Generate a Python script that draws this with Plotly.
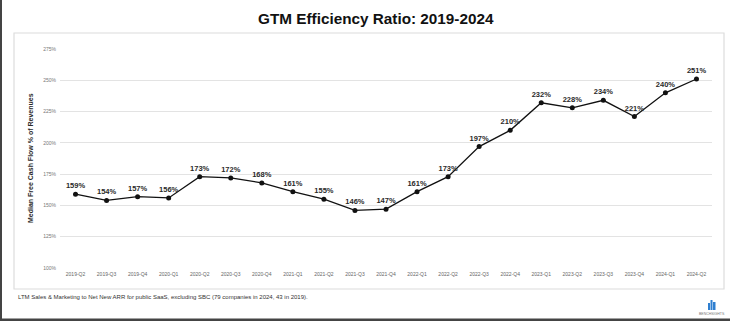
import plotly.graph_objects as go

quarters = ["2019-Q2","2019-Q3","2019-Q4","2020-Q1","2020-Q2","2020-Q3","2020-Q4",
            "2021-Q1","2021-Q2","2021-Q3","2021-Q4","2022-Q1","2022-Q2","2022-Q3",
            "2022-Q4","2023-Q1","2023-Q2","2023-Q3","2023-Q4","2024-Q1","2024-Q2"]
ratio = [159,154,157,156,173,172,168,161,155,146,147,161,173,197,210,232,228,234,221,240,251]
y_ticks = [100,125,150,175,200,225,250,275]

W, H = 730, 321
X0, X1, Y0, Y1 = 60, 712, 49, 268
def px(x): return (x - X0) / (X1 - X0)
def py(y): return (Y1 - y) / (Y1 - Y0)

fig = go.Figure()
fig.add_trace(go.Scatter(
    x=quarters, y=ratio, mode="lines+markers+text",
    line=dict(color="#111111", width=1.3),
    marker=dict(color="#111111", size=5),
    text=[f"<b>{v}%</b>" for v in ratio],
    textposition="top center",
    textfont=dict(family="Liberation Sans, Arial", size=7.5, color="#2a2a2a"),
    cliponaxis=False, hoverinfo="skip",
))

fig.update_layout(
    width=W, height=H,
    margin=dict(l=X0, r=W - X1, t=Y0, b=H - Y1),
    paper_bgcolor="white", plot_bgcolor="white",
    showlegend=False,
    font=dict(family="Liberation Sans, Arial", color="#666666"),
    xaxis=dict(type="category", range=[-0.5, len(quarters) - 0.5],
               showgrid=False, zeroline=False, showline=False,
               ticks="", tickfont=dict(size=5, color="#666666"),
               ticklabelstandoff=2),
    yaxis=dict(range=[100, 275], tickvals=y_ticks,
               ticktext=[f"{v}%" for v in y_ticks],
               showgrid=True, gridcolor="#e3e3e3", gridwidth=1,
               zeroline=False, showline=False, ticks="",
               tickfont=dict(size=5, color="#777777"),
               ticklabelstandoff=3),
)

shapes = [
    dict(type="rect", xref="paper", yref="paper", x0=px(14), x1=px(724), y0=py(289), y1=py(33),
         line=dict(color="#dcdcdc", width=1.2), fillcolor="rgba(0,0,0,0)", layer="below"),
    dict(type="rect", xref="paper", yref="paper", x0=px(0), x1=px(2), y0=py(321), y1=py(0),
         line=dict(width=0), fillcolor="#444444"),
    dict(type="rect", xref="paper", yref="paper", x0=px(0), x1=px(730), y0=py(321), y1=py(318.5),
         line=dict(width=0), fillcolor="#444444"),
]
for bx0, bx1, btop in [(708, 710, 303), (710.5, 712.5, 300), (713, 715.5, 302)]:
    shapes.append(dict(type="rect", xref="paper", yref="paper", x0=px(bx0), x1=px(bx1),
                       y0=py(310), y1=py(btop), line=dict(width=0), fillcolor="#2f7fd0"))
fig.update_layout(shapes=shapes)

anns = [
    dict(text="<b>GTM Efficiency Ratio: 2019-2024</b>", x=px(376), y=py(19), xref="paper", yref="paper",
         showarrow=False, font=dict(size=15.3, color="#111111", family="Liberation Sans, Arial"),
         xanchor="center", yanchor="middle"),
    dict(text="<b>Median Free Cash Flow % of Revenues</b>", x=px(30), y=py(158), xref="paper", yref="paper",
         showarrow=False, textangle=-90, font=dict(size=7, color="#2a2a2a"),
         xanchor="center", yanchor="middle"),
    dict(text="LTM Sales &amp; Marketing to Net New ARR for public SaaS, excluding SBC (79 companies in 2024, 43 in 2019).",
         x=px(16), y=py(296.5), xref="paper", yref="paper", showarrow=False,
         font=dict(size=6, color="#333333"), xanchor="left", yanchor="middle"),
    dict(text="BENCHSIGHTS", x=px(712), y=py(313.5), xref="paper", yref="paper", showarrow=False,
         font=dict(size=3.5, color="#777777"), xanchor="center", yanchor="middle"),
]
fig.update_layout(annotations=anns)

fig.write_html("out.html")
